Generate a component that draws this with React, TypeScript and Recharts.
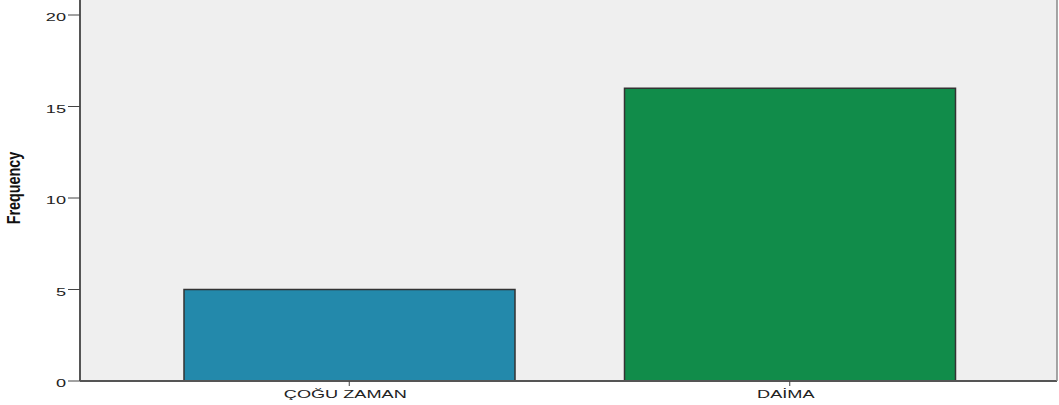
import { BarChart, Bar, Cell, XAxis, YAxis, CartesianGrid } from "recharts";

const CATEGORIES = ["ÇOĞU ZAMAN", "DAİMA"];
const FREQUENCIES = [5, 16];
const BAR_COLORS = ["#2389AB", "#118C4A"];
const Y_TICKS = [0, 5, 10, 15, 20];

const data = CATEGORIES.map((name, i) => ({ name, value: FREQUENCIES[i] }));

// the SPSS export is stretched sideways, so text is drawn wide
const STRETCH = 1.65;
const FONT = "Liberation Sans, Arial, sans-serif";

function XTick({ x, y, payload }: any) {
  return (
    <g transform={`translate(${x - 4},${y})`}>
      <text
        transform={`scale(${STRETCH},1)`}
        x={0}
        y={10}
        textAnchor="middle"
        fontSize={11}
        fontFamily={FONT}
        fill="#222"
      >
        {payload.value}
      </text>
    </g>
  );
}

function YTick({ x, y, payload }: any) {
  return (
    <g transform={`translate(${x},${y})`}>
      <text
        transform={`scale(${STRETCH},1)`}
        x={0}
        y={6}
        textAnchor="end"
        fontSize={11}
        fontFamily={FONT}
        fill="#222"
      >
        {payload.value}
      </text>
    </g>
  );
}

function FrequencyLabel() {
  return (
    <text
      transform="translate(20,188) rotate(-90) scale(0.8,1)"
      textAnchor="middle"
      fontSize={18}
      fontWeight="bold"
      fontFamily={FONT}
      fill="#111"
    >
      Frequency
    </text>
  );
}

export default function App() {
  return (
    <div style={{ position: "absolute", left: 0, top: 0, background: "#fff" }}>
      <BarChart
        width={1059}
        height={405}
        data={data}
        margin={{ top: 0, right: 1, bottom: 0, left: 0 }}
      >
        <CartesianGrid fill="#EFEFEF" horizontal={false} vertical={false} />
        <XAxis
          dataKey="name"
          height={24}
          padding={{ left: 49, right: 47 }}
          tick={<XTick />}
          tickSize={5}
          tickLine={{ stroke: "#444" }}
          axisLine={{ stroke: "#555", strokeWidth: 2 }}
        />
        <YAxis
          yAxisId="left"
          width={80}
          type="number"
          domain={[0, 20.82]}
          ticks={Y_TICKS}
          allowDataOverflow
          tick={<YTick />}
          tickSize={12}
          tickLine={{ stroke: "#444" }}
          axisLine={{ stroke: "#555", strokeWidth: 2 }}
          label={FrequencyLabel}
        />
        <YAxis
          yAxisId="right"
          orientation="right"
          width={1}
          tick={false}
          tickLine={false}
          axisLine={{ stroke: "#888", strokeWidth: 1.5 }}
        />
        <Bar
          yAxisId="left"
          dataKey="value"
          barSize={331}
          stroke="#333"
          strokeWidth={1.5}
          isAnimationActive={false}
        >
          {data.map((_, i) => (
            <Cell key={`cell-${i}`} fill={BAR_COLORS[i]} />
          ))}
        </Bar>
      </BarChart>
    </div>
  );
}
